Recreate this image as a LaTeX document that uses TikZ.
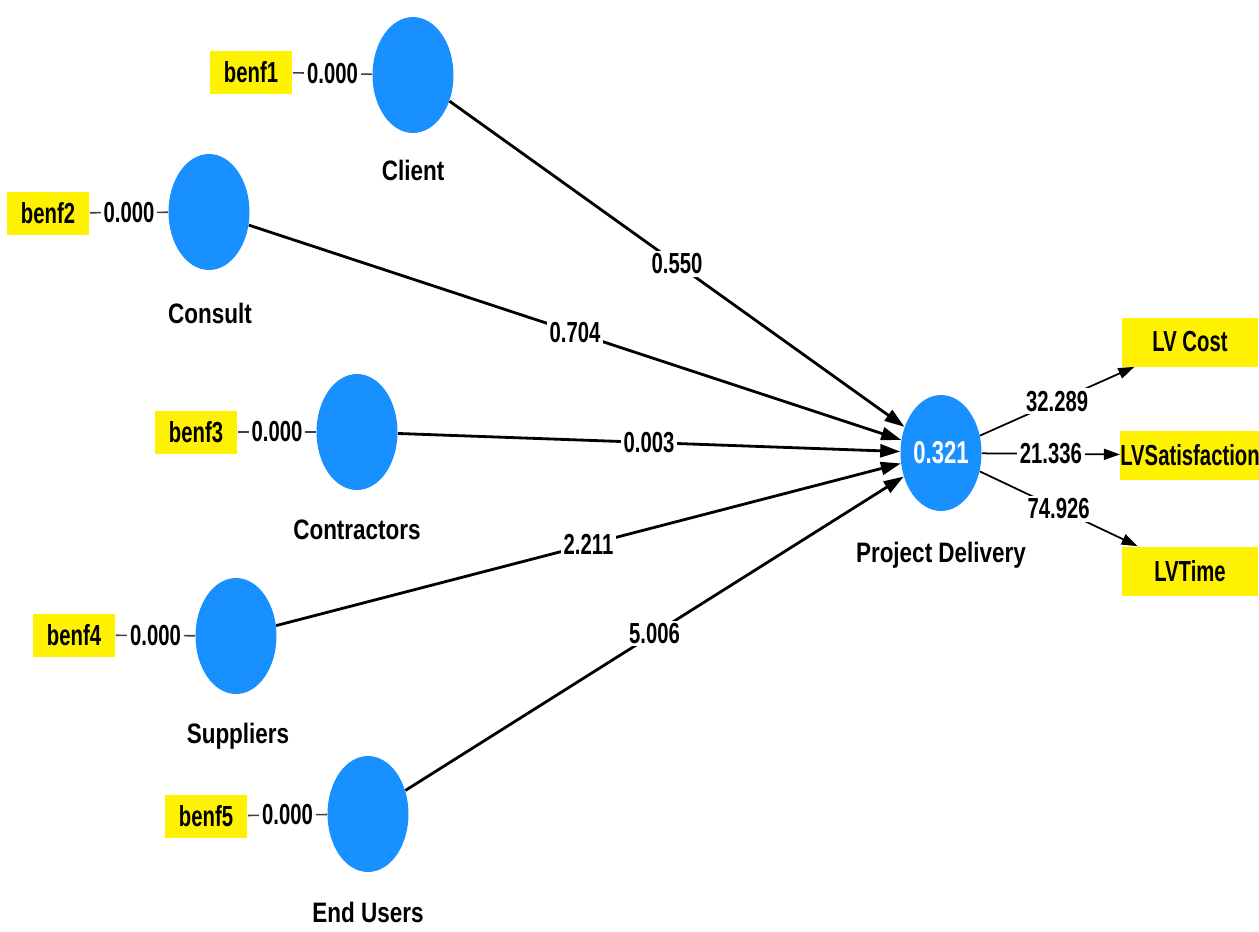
\documentclass[tikz,border=0pt]{standalone}
\usepackage{fontspec}
\setmainfont[FakeStretch=0.70]{Liberation Sans}
\newfontfamily\namefont[FakeStretch=0.80]{Liberation Sans}
\usetikzlibrary{shapes.geometric,arrows.meta}
\definecolor{lvblue}{RGB}{24,144,255}
\tikzset{
  lv/.style={ellipse, fill=lvblue, minimum width=1.62cm, minimum height=2.32cm, inner sep=0pt},
  ind/.style={fill=yellow, minimum width=1.66cm, minimum height=0.86cm, inner sep=0pt},
  outind/.style={fill=yellow, minimum width=2.72cm, minimum height=0.98cm, inner sep=0pt},
  lvname/.style={font=\namefont\fontsize{16}{18}\selectfont\bfseries},
  wt/.style={fill=white, inner sep=1.5pt},
  structedge/.style={line width=1.6pt, -{Triangle[length=0.4cm,width=0.26cm]}},
  outedge/.style={line width=1pt, -{Triangle[length=0.32cm,width=0.22cm]}},
  indedge/.style={line width=0.9pt, black!75}
}
\begin{document}
\begin{tikzpicture}[x=0.02cm, y=-0.02cm, font=\fontsize{16.5}{18}\selectfont\bfseries]
\useasboundingbox (0,0) rectangle (1259,931);
% latent variables
\node[lv] (client) at (413,75) {};
\node[lv] (consult) at (209,212) {};
\node[lv] (contr) at (357,432) {};
\node[lv] (suppl) at (236,636) {};
\node[lv] (users) at (368,814) {};
\node[lv, text=white, font=\fontsize{18}{20}\selectfont\bfseries] (pd) at (941,453) {0.321};
% names under the circles
\node[lvname] (clientname) at (413,170) {Client};
\node[lvname] (consultname) at (210,313) {Consult};
\node[lvname] (contrname) at (357,530) {Contractors};
\node[lvname] (supplname) at (238,736) {Suppliers};
\node[lvname] (usersname) at (368,912) {End Users};
\node[lvname] (pdname) at (941,555) {Project Delivery};
% indicators
\node[ind] (b1) at (251,72) {benf1};
\node[ind] (b2) at (48,213) {benf2};
\node[ind] (b3) at (196,432) {benf3};
\node[ind] (b4) at (74,635) {benf4};
\node[ind] (b5) at (206,816) {benf5};
\node[outind] (cost) at (1190,342) {LV Cost};
\node[outind] (satis) at (1190,455) {LVSatisfaction};
\node[outind] (time) at (1190,571) {LVTime};
% loadings
\draw[indedge] (b1) -- node[wt, text=black]{0.000} (client);
\draw[indedge] (b2) -- node[wt, text=black]{0.000} (consult);
\draw[indedge] (b3) -- node[wt, text=black]{0.000} (contr);
\draw[indedge] (b4) -- node[wt, text=black]{0.000} (suppl);
\draw[indedge] (b5) -- node[wt, text=black]{0.000} (users);
% paths
\draw[structedge] (client) -- node[wt]{0.550} (pd);
\draw[structedge] (consult) -- node[wt]{0.704} (pd);
\draw[structedge] (contr) -- node[wt]{0.003} (pd);
\draw[structedge] (suppl) -- node[wt]{2.211} (pd);
\draw[structedge] (users) -- node[wt]{5.006} (pd);
\draw[outedge] (pd) -- node[wt]{32.289} (cost);
\draw[outedge] (pd) -- node[wt]{21.336} (satis);
\draw[outedge] (pd) -- node[wt]{74.926} (time);
\end{tikzpicture}
\end{document}
